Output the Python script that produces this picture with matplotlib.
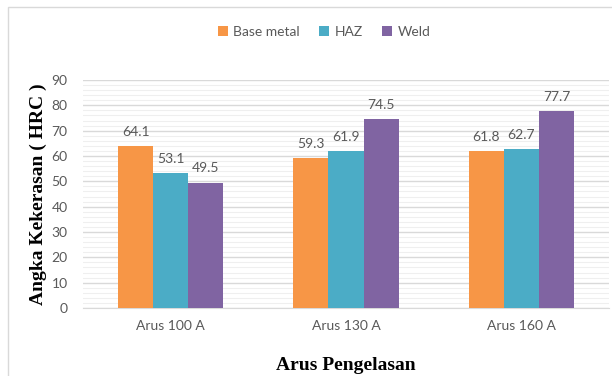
import numpy as np
import matplotlib.pyplot as plt
from matplotlib.patches import Rectangle

# hardness per welding current
categories = ["Arus 100 A", "Arus 130 A", "Arus 160 A"]
series_names = ["Base metal", "HAZ", "Weld"]
base_metal = [64.1, 59.3, 61.8]
haz = [53.1, 61.9, 62.7]
weld = [49.5, 74.5, 77.7]
yticks = [0, 10, 20, 30, 40, 50, 60, 70, 80, 90]

colors = ["#F79646", "#4BACC6", "#8064A2"]
text_gray = "#595959"

fig = plt.figure(figsize=(6.12, 3.76), dpi=100)
ax = fig.add_axes([83 / 612, 1 - 308 / 376, (609 - 83) / 612, (308 - 80) / 376])

# chart frame (extends past the right/bottom edges)
fig.patches.append(Rectangle((8 / 612, -0.1), 1.2, 1 - 7 / 376 + 0.1,
                             transform=fig.transFigure, fill=False,
                             edgecolor="#D9D9D9", linewidth=1.0, zorder=0))

x = np.arange(len(categories))
width = 0.2
for i, (name, vals) in enumerate(zip(series_names, [base_metal, haz, weld])):
    pos = x + (i - 1) * width
    bars = ax.bar(pos, vals, width, color=colors[i], label=name, zorder=3)
    for b, v in zip(bars, vals):
        ax.text(b.get_x() + b.get_width() / 2, v + 3.2, f"{v:.1f}",
                ha="center", va="bottom", fontsize=10, color=text_gray,
                family="Lato")

ax.set_xlim(-0.5, 2.5)
ax.set_ylim(0, 90)
ax.set_yticks(yticks)
ax.set_yticks(np.arange(0, 90, 2), minor=True)
ax.set_xticks(x)
ax.set_xticklabels(categories)
ax.tick_params(axis="both", length=0, labelsize=10, colors=text_gray)
ax.tick_params(axis="x", pad=9)
ax.tick_params(axis="y", pad=11)
ax.tick_params(axis="y", which="minor", length=0)
for lbl in ax.get_xticklabels() + ax.get_yticklabels():
    lbl.set_family("Lato")

ax.grid(axis="y", which="major", color="#D9D9D9", linewidth=1.0, zorder=0)
ax.grid(axis="y", which="minor", color="#EFEFEF", linewidth=0.8, zorder=0)
for s in ["top", "right", "left"]:
    ax.spines[s].set_visible(False)
ax.spines["bottom"].set_color("#D9D9D9")

ax.set_xlabel("Arus Pengelasan", family="Liberation Serif", fontweight="bold",
              fontsize=14, labelpad=18)
ax.set_ylabel("Angka Kekerasan ( HRC )", family="Liberation Serif",
              fontweight="bold", fontsize=14, labelpad=3)

leg = fig.legend(loc="center", bbox_to_anchor=(0.53, 1 - 32 / 376), ncol=3,
                 frameon=False, handlelength=0.7, handleheight=0.7,
                 handletextpad=0.4, columnspacing=1.4,
                 prop={"family": "Lato", "size": 10})
for t in leg.get_texts():
    t.set_color(text_gray)

fig.savefig("out.png", dpi=100)
